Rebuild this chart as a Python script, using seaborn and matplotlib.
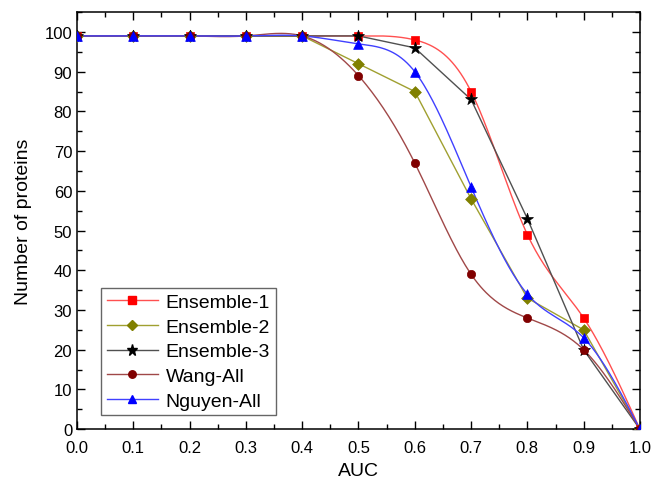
import numpy as np
import pandas as pd
import matplotlib
matplotlib.use('Agg')
import matplotlib.pyplot as plt
from matplotlib.lines import Line2D
from matplotlib.ticker import MultipleLocator
import seaborn as sns

auc_vals = [0.0, 0.1, 0.2, 0.3, 0.4, 0.5, 0.6, 0.7, 0.8, 0.9, 1.0]
ensemble1 = [99, 99, 99, 99, 99, 99, 98, 85, 49, 28, 0]
ensemble2 = [99, 99, 99, 99, 99, 92, 85, 58, 33, 25, 0]
ensemble3 = [99, 99, 99, 99, 99, 99, 96, 83, 53, 20, 0]
wang_all = [99, 99, 99, 99, 99, 89, 67, 39, 28, 20, 0]
nguyen_all = [99, 99, 99, 99, 99, 97, 90, 61, 34, 23, 0]
series_names = ['Ensemble-1', 'Ensemble-2', 'Ensemble-3', 'Wang-All', 'Nguyen-All']
x_ticks = [0.0, 0.1, 0.2, 0.3, 0.4, 0.5, 0.6, 0.7, 0.8, 0.9, 1.0]
y_ticks = [0, 10, 20, 30, 40, 50, 60, 70, 80, 90, 100]


def natural_spline(x, y, n=400):
    # natural cubic spline through the points, for the smoothed line style
    x = np.asarray(x, float); y = np.asarray(y, float)
    k = len(x)
    h = np.diff(x)
    A = np.zeros((k, k)); b = np.zeros(k)
    A[0, 0] = A[-1, -1] = 1
    for i in range(1, k - 1):
        A[i, i - 1] = h[i - 1]
        A[i, i] = 2 * (h[i - 1] + h[i])
        A[i, i + 1] = h[i]
        b[i] = 6 * ((y[i + 1] - y[i]) / h[i] - (y[i] - y[i - 1]) / h[i - 1])
    m = np.linalg.solve(A, b)
    xs = np.linspace(x[0], x[-1], n)
    idx = np.clip(np.searchsorted(x, xs) - 1, 0, k - 2)
    x0, x1 = x[idx], x[idx + 1]; hh = x1 - x0
    t0, t1 = x1 - xs, xs - x0
    ys = (m[idx] * t0**3 + m[idx + 1] * t1**3) / (6 * hh) \
        + (y[idx] / hh - m[idx] * hh / 6) * t0 + (y[idx + 1] / hh - m[idx + 1] * hh / 6) * t1
    return xs, ys


plt.rcParams['font.family'] = ['Liberation Sans', 'DejaVu Sans']
fig = plt.figure(figsize=(6.53, 4.85), dpi=100)
ax = fig.add_axes([0.118, 0.113, 0.862, 0.86])

styles = [
    (ensemble1, '#ff5050', '#ff0000', 's', 6, True),
    (ensemble2, '#a0a030', '#808000', 'D', 6, False),
    (ensemble3, '#505050', '#000000', '*', 9, False),
    (wang_all, '#a04848', '#800000', 'o', 6, True),
    (nguyen_all, '#4040ff', '#0000ff', '^', 7, True),
]

handles = []
for name, (vals, lc, mc, mk, ms, smooth) in zip(series_names, styles):
    if smooth:
        xs, ys = natural_spline(auc_vals, vals)
    else:
        xs, ys = np.array(auc_vals), np.array(vals, float)
    sns.lineplot(x=xs, y=ys, color=lc, lw=1.0, ax=ax, sort=False)
    sns.scatterplot(x=auc_vals, y=vals, color=mc, marker=mk, s=ms**2,
                    edgecolor=mc, linewidth=0.5, ax=ax, zorder=3)
    handles.append(Line2D([0], [0], color=lc, lw=1.0, marker=mk, markersize=ms * 0.9,
                          markerfacecolor=mc, markeredgecolor=mc))

ax.set_xlim(0, 1.0)
ax.set_ylim(0, 105)
ax.set_xticks(x_ticks)
ax.set_xticklabels([f'{v:.1f}' for v in x_ticks])
ax.set_yticks(y_ticks)
ax.xaxis.set_minor_locator(MultipleLocator(0.05))
ax.yaxis.set_minor_locator(MultipleLocator(5))
ax.tick_params(which='both', direction='in', top=True, right=True, labelsize=12, width=1)
ax.tick_params(which='major', length=6)
ax.tick_params(which='minor', length=3.5)
for sp in ax.spines.values():
    sp.set_linewidth(1.1)
ax.tick_params(axis='x', pad=8)
ax.set_xlabel('AUC', fontsize=14, labelpad=5)
ax.set_ylabel('Number of proteins', fontsize=14, labelpad=9)

leg = ax.legend(handles, series_names, loc='lower left', bbox_to_anchor=(0.043, 0.033),
                fontsize=14, frameon=True, fancybox=False, edgecolor='#404040',
                handlelength=2.6, borderpad=0.3, labelspacing=0.36, handletextpad=0.4,
                borderaxespad=0.0)
leg.get_frame().set_linewidth(1.0)

fig.savefig('out.png', dpi=100)
